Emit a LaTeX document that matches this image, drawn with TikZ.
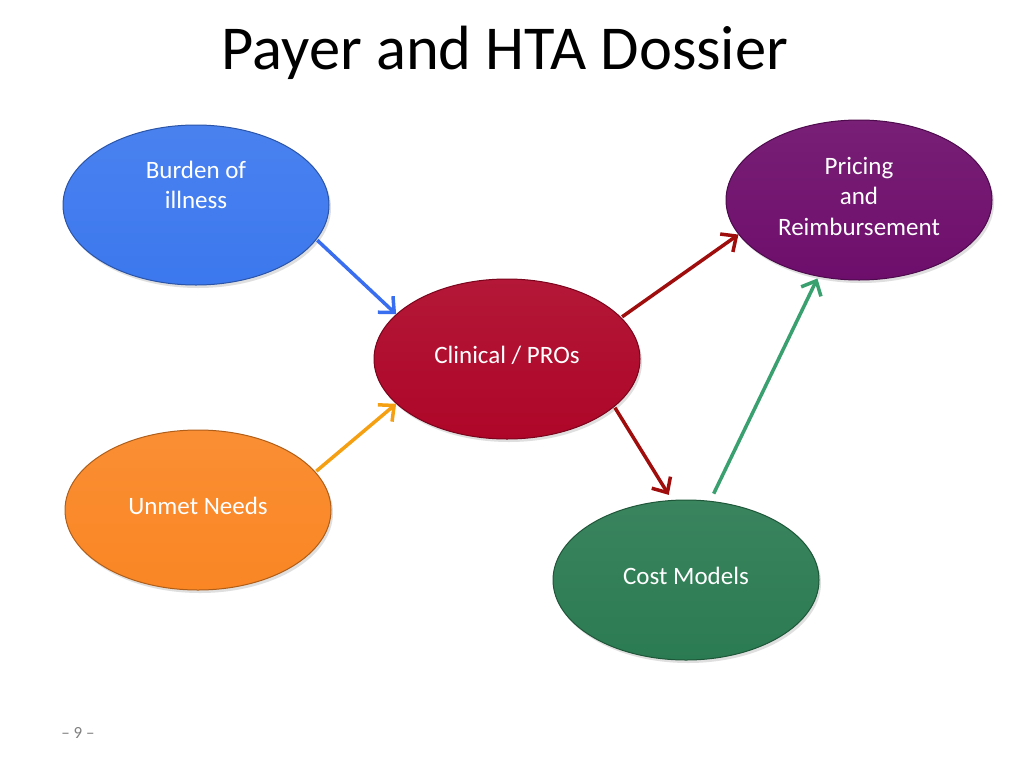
\documentclass[tikz,border=0pt]{standalone}
\usepackage{fontspec}
\setmainfont{Carlito}
\usetikzlibrary{shapes.geometric,arrows.meta,shadows}
\definecolor{cblue}{HTML}{3C78EE}
\definecolor{cpurple}{HTML}{6E0E6C}
\definecolor{cred}{HTML}{AE0628}
\definecolor{corange}{HTML}{FA8624}
\definecolor{cgreen}{HTML}{2B7B52}
\definecolor{ablue}{HTML}{3A6EF0}
\definecolor{aorange}{HTML}{F5A012}
\definecolor{ared}{HTML}{A00D0D}
\definecolor{agreen}{HTML}{3AA070}
\tikzset{
  blob/.style={ellipse, minimum width=266pt, minimum height=160pt, inner sep=0pt,
    line width=1pt, drop shadow={shadow xshift=2pt, shadow yshift=-3pt, opacity=0.25}},
  lbl/.style={text=white, font=\fontsize{25}{30.5}\selectfont, align=center},
  conn/.style={line width=3.5pt, -{Straight Barb[length=12pt, width=22pt, line width=3.5pt]}, shorten <=1pt}
}
\begin{document}
\begin{tikzpicture}[x=1pt,y=-1pt]
\useasboundingbox (0,0) rectangle (1024,768);
\fill[white] (0,0) rectangle (1024,768);
\node[font=\fontsize{62.5}{64}\selectfont, anchor=base] (title) at (505,70) {Payer and HTA Dossier};

\node[blob, top color=cblue!93!white, bottom color=cblue, draw=cblue!70!black] (burden) at (196,205) {};
\node[blob, top color=cpurple!93!white, bottom color=cpurple, draw=cpurple!70!black] (pricing) at (859,200) {};
\node[blob, top color=cred!93!white, bottom color=cred, draw=cred!70!black] (clinical) at (507,359) {};
\node[blob, top color=corange!93!white, bottom color=corange, draw=corange!70!black] (unmet) at (198,510) {};
\node[blob, top color=cgreen!93!white, bottom color=cgreen, draw=cgreen!70!black] (cost) at (686,580) {};

\node[lbl] (tburden) at (196,185) {Burden of\\illness};
\node[lbl] (tpricing) at (859,196) {Pricing\\and\\Reimbursement};
\node[lbl] (tclinical) at (507,355) {Clinical / PROs};
\node[lbl] (tunmet) at (198,506) {Unmet Needs};
\node[lbl] (tcost) at (686,576) {Cost Models};

\node[text=gray, font=\fontsize{17}{18}\selectfont] (page) at (78,733) {– 9 –};

\draw[conn, ablue] (burden.-16) -- (clinical.158);
\draw[conn, aorange] (unmet.18) -- (clinical.202);
\draw[conn, ared] (clinical.20) -- (pricing.196);
\draw[conn, ared, shorten >=6pt] (clinical.-24) -- (cost.100);
\draw[conn, agreen, shorten <=8pt, shorten >=2pt] (cost.73) -- (pricing.242);
\end{tikzpicture}
\end{document}
